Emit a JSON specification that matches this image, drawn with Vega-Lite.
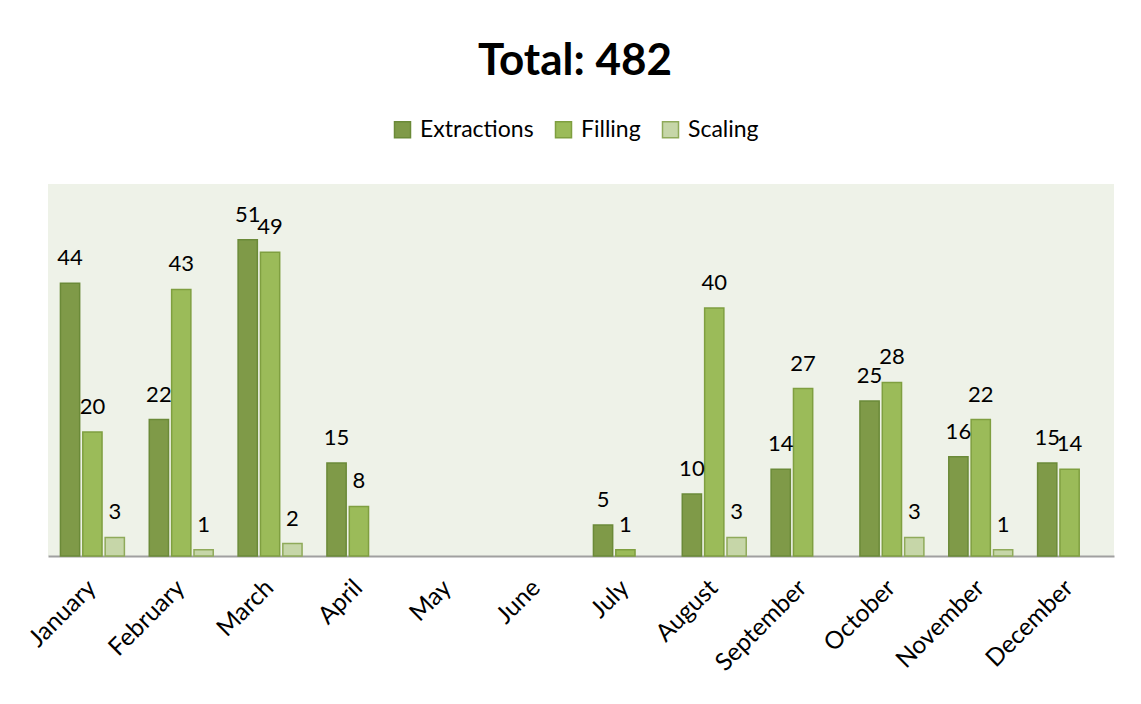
{
  "$schema": "https://vega.github.io/schema/vega-lite/v6.json",
  "width": 1066,
  "height": 372,
  "autosize": {"type": "none"},
  "padding": {"left": 48, "top": 184, "right": 27, "bottom": 148},
  "background": "#ffffff",
  "config": {
    "font": "Lato",
    "view": {"fill": "#EEF2E8", "stroke": null}
  },
  "title": {
    "text": "Total: 482",
    "font": "Lato",
    "fontSize": 44,
    "fontWeight": "bold",
    "color": "#000000",
    "anchor": "middle",
    "frame": "group",
    "dy": -30,
    "dx": -6
  },
  "data": {
    "values": [
      {"month": "January", "type": "Extractions", "value": 44},
      {"month": "January", "type": "Filling", "value": 20},
      {"month": "January", "type": "Scaling", "value": 3},
      {"month": "February", "type": "Extractions", "value": 22},
      {"month": "February", "type": "Filling", "value": 43},
      {"month": "February", "type": "Scaling", "value": 1},
      {"month": "March", "type": "Extractions", "value": 51},
      {"month": "March", "type": "Filling", "value": 49},
      {"month": "March", "type": "Scaling", "value": 2},
      {"month": "April", "type": "Extractions", "value": 15},
      {"month": "April", "type": "Filling", "value": 8},
      {"month": "July", "type": "Extractions", "value": 5},
      {"month": "July", "type": "Filling", "value": 1},
      {"month": "August", "type": "Extractions", "value": 10},
      {"month": "August", "type": "Filling", "value": 40},
      {"month": "August", "type": "Scaling", "value": 3},
      {"month": "September", "type": "Extractions", "value": 14},
      {"month": "September", "type": "Filling", "value": 27},
      {"month": "October", "type": "Extractions", "value": 25},
      {"month": "October", "type": "Filling", "value": 28},
      {"month": "October", "type": "Scaling", "value": 3},
      {"month": "November", "type": "Extractions", "value": 16},
      {"month": "November", "type": "Filling", "value": 22},
      {"month": "November", "type": "Scaling", "value": 1},
      {"month": "December", "type": "Extractions", "value": 15},
      {"month": "December", "type": "Filling", "value": 14}
    ]
  },
  "encoding": {
    "x": {
      "field": "month",
      "type": "nominal",
      "sort": null,
      "scale": {
        "domain": ["January", "February", "March", "April", "May", "June", "July", "August", "September", "October", "November", "December"],
        "paddingInner": 0.28,
        "paddingOuter": 0.14
      },
      "axis": {
        "title": null,
        "labelAngle": -45,
        "labelAlign": "right",
        "labelBaseline": "middle",
        "labelFont": "Lato",
        "labelFontSize": 24.5,
        "labelColor": "#000000",
        "labelPadding": 28,
        "ticks": false,
        "domainColor": "#A0A0A0",
        "domainWidth": 2
      }
    },
    "xOffset": {
      "field": "type",
      "type": "nominal",
      "scale": {"domain": ["Extractions", "Filling", "Scaling"], "paddingInner": 0.14}
    },
    "y": {
      "field": "value",
      "type": "quantitative",
      "scale": {"domain": [0, 60], "nice": false},
      "axis": null
    }
  },
  "layer": [
    {
      "mark": {"type": "bar", "strokeWidth": 1.5},
      "encoding": {
        "color": {
          "field": "type",
          "type": "nominal",
          "scale": {"domain": ["Extractions", "Filling", "Scaling"], "range": ["#7F9A48", "#9BBB59", "#C6D6A8"]},
          "legend": {
            "title": null,
            "orient": "none",
            "direction": "horizontal",
            "legendX": 343,
            "legendY": -66,
            "symbolType": "square",
            "symbolSize": 256,
            "symbolStrokeWidth": 1.5,
            "labelFont": "Lato",
            "labelFontSize": 23,
            "labelColor": "#000000",
            "columnPadding": 18,
            "labelOffset": 6
          }
        },
        "stroke": {
          "field": "type",
          "type": "nominal",
          "scale": {"domain": ["Extractions", "Filling", "Scaling"], "range": ["#6B8A38", "#7F9F40", "#8FAA5A"]},
          "legend": null
        }
      }
    },
    {
      "mark": {"type": "text", "baseline": "alphabetic", "dy": -18, "fontSize": 22, "font": "Lato", "color": "#000000"},
      "encoding": {"text": {"field": "value", "type": "quantitative"}}
    }
  ]
}
